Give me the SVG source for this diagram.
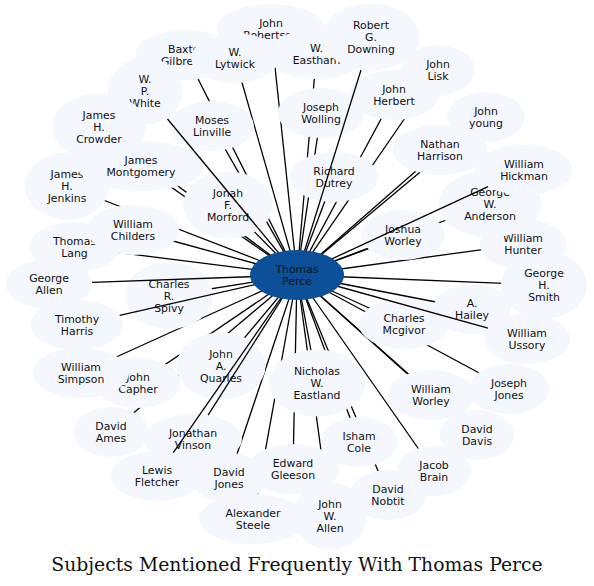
<svg xmlns="http://www.w3.org/2000/svg" width="594" height="586" viewBox="0 0 594 586">
<style>
.n ellipse{fill:#f4f7fe;stroke:none}
.n text,.c text{font-family:"DejaVu Sans",sans-serif;font-size:10.9px;text-anchor:middle;fill:#111}
.e line{stroke:#000;stroke-width:1.3;fill:none}
.title{font-family:"DejaVu Serif",serif;font-size:18.8px;text-anchor:middle;fill:#111}
</style>
<rect width="594" height="586" fill="#fff"/>
<g id="edges-under" class="e">
<line x1="297" y1="275" x2="271" y2="29"/>
<line x1="297" y1="275" x2="186" y2="55"/>
<line x1="297" y1="275" x2="316.5" y2="54"/>
<line x1="297" y1="275" x2="235" y2="58"/>
<line x1="297" y1="275" x2="438" y2="70"/>
<line x1="297" y1="275" x2="394" y2="95"/>
<line x1="297" y1="275" x2="321" y2="113"/>
<line x1="297" y1="275" x2="212" y2="126"/>
<line x1="297" y1="275" x2="99" y2="127"/>
<line x1="297" y1="275" x2="486" y2="117"/>
<line x1="297" y1="275" x2="440" y2="150"/>
<line x1="297" y1="275" x2="67" y2="186"/>
<line x1="297" y1="275" x2="141" y2="166"/>
<line x1="297" y1="275" x2="334" y2="177"/>
<line x1="297" y1="275" x2="544" y2="285"/>
<line x1="297" y1="275" x2="523" y2="244"/>
<line x1="297" y1="275" x2="490" y2="204"/>
<line x1="297" y1="275" x2="74.5" y2="247"/>
<line x1="297" y1="275" x2="133" y2="230"/>
<line x1="297" y1="275" x2="228" y2="205"/>
<line x1="297" y1="275" x2="403" y2="235"/>
<line x1="297" y1="275" x2="169" y2="295.5"/>
<line x1="297" y1="275" x2="472" y2="309"/>
<line x1="297" y1="275" x2="404" y2="324"/>
<line x1="297" y1="275" x2="221" y2="366"/>
<line x1="297" y1="275" x2="138" y2="383"/>
<line x1="297" y1="275" x2="81" y2="373"/>
<line x1="297" y1="275" x2="317" y2="383"/>
<line x1="297" y1="275" x2="509" y2="389"/>
<line x1="297" y1="275" x2="431" y2="395"/>
<line x1="297" y1="275" x2="111" y2="432"/>
<line x1="297" y1="275" x2="477" y2="435"/>
<line x1="297" y1="275" x2="359" y2="442"/>
<line x1="297" y1="275" x2="293" y2="469"/>
<line x1="297" y1="275" x2="434" y2="471"/>
<line x1="297" y1="275" x2="229" y2="478"/>
<line x1="297" y1="275" x2="388" y2="495"/>
<line x1="297" y1="275" x2="253" y2="519"/>
<line x1="297" y1="275" x2="330" y2="516"/>
</g>
<g id="robertson" class="n"><ellipse cx="271" cy="29" rx="54.3" ry="25"/><text><tspan x="271" y="27">John</tspan><tspan x="271" y="39">Robertson</tspan></text></g>
<g id="gilbreath" class="n"><ellipse cx="186" cy="55" rx="50.5" ry="25"/><text><tspan x="186" y="53">Baxter</tspan><tspan x="186" y="65">Gilbreath</tspan></text></g>
<g id="eastham" class="n"><ellipse cx="316.5" cy="54" rx="48.6" ry="25"/><text><tspan x="316.5" y="52">W.</tspan><tspan x="316.5" y="64">Eastham</tspan></text></g>
<g id="lytwick" class="n"><ellipse cx="235" cy="58" rx="43.9" ry="25"/><text><tspan x="235" y="56">W.</tspan><tspan x="235" y="68">Lytwick</tspan></text></g>
<g id="white" class="n"><ellipse cx="145" cy="91" rx="37.3" ry="33.5"/><text><tspan x="145" y="83">W.</tspan><tspan x="145" y="95">P.</tspan><tspan x="145" y="107">White</tspan></text></g>
<g id="downing" class="n"><ellipse cx="371" cy="37" rx="48.6" ry="33.5"/><text><tspan x="371" y="29">Robert</tspan><tspan x="371" y="41">G.</tspan><tspan x="371" y="53">Downing</tspan></text></g>
<g id="lisk" class="n"><ellipse cx="438" cy="70" rx="37" ry="25"/><text><tspan x="438" y="68">John</tspan><tspan x="438" y="80">Lisk</tspan></text></g>
<g id="herbert" class="n"><ellipse cx="394" cy="95" rx="44.4" ry="25"/><text><tspan x="394" y="93">John</tspan><tspan x="394" y="105">Herbert</tspan></text></g>
<g id="wolling" class="n"><ellipse cx="321" cy="113" rx="43.4" ry="25"/><text><tspan x="321" y="111">Joseph</tspan><tspan x="321" y="123">Wolling</tspan></text></g>
<g id="linville" class="n"><ellipse cx="212" cy="126" rx="41.9" ry="25"/><text><tspan x="212" y="124">Moses</tspan><tspan x="212" y="136">Linville</tspan></text></g>
<g id="crowder" class="n"><ellipse cx="99" cy="127" rx="47.2" ry="33.5"/><text><tspan x="99" y="119">James</tspan><tspan x="99" y="131">H.</tspan><tspan x="99" y="143">Crowder</tspan></text></g>
<g id="young" class="n"><ellipse cx="486" cy="117" rx="38.8" ry="25"/><text><tspan x="486" y="115">John</tspan><tspan x="486" y="127">young</tspan></text></g>
<g id="harrison" class="n"><ellipse cx="440" cy="150" rx="47.4" ry="25"/><text><tspan x="440" y="148">Nathan</tspan><tspan x="440" y="160">Harrison</tspan></text></g>
<g id="jenkins" class="n"><ellipse cx="67" cy="186" rx="42.3" ry="33.5"/><text><tspan x="67" y="178">James</tspan><tspan x="67" y="190">H.</tspan><tspan x="67" y="202">Jenkins</tspan></text></g>
<g id="montgomery" class="n"><ellipse cx="141" cy="166" rx="63.5" ry="25"/><text><tspan x="141" y="164">James</tspan><tspan x="141" y="176">Montgomery</tspan></text></g>
<g id="dutrey" class="n"><ellipse cx="334" cy="177" rx="44.3" ry="25"/><text><tspan x="334" y="175">Richard</tspan><tspan x="334" y="187">Dutrey</tspan></text></g>
<g id="smith" class="n"><ellipse cx="544" cy="285" rx="43.1" ry="33.5"/><text><tspan x="544" y="277">George</tspan><tspan x="544" y="289">H.</tspan><tspan x="544" y="301">Smith</tspan></text></g>
<g id="hunter" class="n"><ellipse cx="523" cy="244" rx="43.3" ry="25"/><text><tspan x="523" y="242">William</tspan><tspan x="523" y="254">Hunter</tspan></text></g>
<g id="anderson" class="n"><ellipse cx="490" cy="204" rx="51.4" ry="33.5"/><text><tspan x="490" y="196">George</tspan><tspan x="490" y="208">W.</tspan><tspan x="490" y="220">Anderson</tspan></text></g>
<g id="hickman" class="n"><ellipse cx="524" cy="170" rx="48.6" ry="25"/><text><tspan x="524" y="168">William</tspan><tspan x="524" y="180">Hickman</tspan></text></g>
<g id="lang" class="n"><ellipse cx="74.5" cy="247" rx="45.4" ry="25"/><text><tspan x="74.5" y="245">Thomas</tspan><tspan x="74.5" y="257">Lang</tspan></text></g>
<g id="childers" class="n"><ellipse cx="133" cy="230" rx="46.2" ry="25"/><text><tspan x="133" y="228">William</tspan><tspan x="133" y="240">Childers</tspan></text></g>
<g id="morford" class="n"><ellipse cx="228" cy="205" rx="44.9" ry="33.5"/><text><tspan x="228" y="197">Jonah</tspan><tspan x="228" y="209">F.</tspan><tspan x="228" y="221">Morford</tspan></text></g>
<g id="joshua-worley" class="n"><ellipse cx="403" cy="235" rx="41.8" ry="25"/><text><tspan x="403" y="233">Joshua</tspan><tspan x="403" y="245">Worley</tspan></text></g>
<g id="george-allen" class="n"><ellipse cx="49" cy="284" rx="43.1" ry="25"/><text><tspan x="49" y="282">George</tspan><tspan x="49" y="294">Allen</tspan></text></g>
<g id="spivy" class="n"><ellipse cx="169" cy="295.5" rx="43.9" ry="33.5"/><text><tspan x="169" y="287.5">Charles</tspan><tspan x="169" y="299.5">R.</tspan><tspan x="169" y="311.5">Spivy</tspan></text></g>
<g id="hailey" class="n"><ellipse cx="472" cy="309" rx="39" ry="25"/><text><tspan x="472" y="307">A.</tspan><tspan x="472" y="319">Hailey</tspan></text></g>
<g id="mcgivor" class="n"><ellipse cx="404" cy="324" rx="45.2" ry="25"/><text><tspan x="404" y="322">Charles</tspan><tspan x="404" y="334">Mcgivor</tspan></text></g>
<g id="harris" class="n"><ellipse cx="77" cy="325" rx="46.4" ry="25"/><text><tspan x="77" y="323">Timothy</tspan><tspan x="77" y="335">Harris</tspan></text></g>
<g id="ussory" class="n"><ellipse cx="527" cy="339" rx="43.3" ry="25"/><text><tspan x="527" y="337">William</tspan><tspan x="527" y="349">Ussory</tspan></text></g>
<g id="quarles" class="n"><ellipse cx="221" cy="366" rx="44.6" ry="33.5"/><text><tspan x="221" y="358">John</tspan><tspan x="221" y="370">A.</tspan><tspan x="221" y="382">Quarles</tspan></text></g>
<g id="capher" class="n"><ellipse cx="138" cy="383" rx="42.7" ry="25"/><text><tspan x="138" y="381">John</tspan><tspan x="138" y="393">Capher</tspan></text></g>
<g id="simpson" class="n"><ellipse cx="81" cy="373" rx="47.9" ry="25"/><text><tspan x="81" y="371">William</tspan><tspan x="81" y="383">Simpson</tspan></text></g>
<g id="eastland" class="n"><ellipse cx="317" cy="383" rx="48.1" ry="33.5"/><text><tspan x="317" y="375">Nicholas</tspan><tspan x="317" y="387">W.</tspan><tspan x="317" y="399">Eastland</tspan></text></g>
<g id="joseph-jones" class="n"><ellipse cx="509" cy="389" rx="40.4" ry="25"/><text><tspan x="509" y="387">Joseph</tspan><tspan x="509" y="399">Jones</tspan></text></g>
<g id="william-worley" class="n"><ellipse cx="431" cy="395" rx="43.3" ry="25"/><text><tspan x="431" y="393">William</tspan><tspan x="431" y="405">Worley</tspan></text></g>
<g id="ames" class="n"><ellipse cx="111" cy="432" rx="37.2" ry="25"/><text><tspan x="111" y="430">David</tspan><tspan x="111" y="442">Ames</tspan></text></g>
<g id="vinson" class="n"><ellipse cx="193" cy="439" rx="48.9" ry="25"/><text><tspan x="193" y="437">Jonathan</tspan><tspan x="193" y="449">Vinson</tspan></text></g>
<g id="davis" class="n"><ellipse cx="477" cy="435" rx="37.2" ry="25"/><text><tspan x="477" y="433">David</tspan><tspan x="477" y="445">Davis</tspan></text></g>
<g id="cole" class="n"><ellipse cx="359" cy="442" rx="38.3" ry="25"/><text><tspan x="359" y="440">Isham</tspan><tspan x="359" y="452">Cole</tspan></text></g>
<g id="gleeson" class="n"><ellipse cx="293" cy="469" rx="46" ry="25"/><text><tspan x="293" y="467">Edward</tspan><tspan x="293" y="479">Gleeson</tspan></text></g>
<g id="brain" class="n"><ellipse cx="434" cy="471" rx="37" ry="25"/><text><tspan x="434" y="469">Jacob</tspan><tspan x="434" y="481">Brain</tspan></text></g>
<g id="fletcher" class="n"><ellipse cx="157" cy="476" rx="46.2" ry="25"/><text><tspan x="157" y="474">Lewis</tspan><tspan x="157" y="486">Fletcher</tspan></text></g>
<g id="david-jones" class="n"><ellipse cx="229" cy="478" rx="37.2" ry="25"/><text><tspan x="229" y="476">David</tspan><tspan x="229" y="488">Jones</tspan></text></g>
<g id="nobtit" class="n"><ellipse cx="388" cy="495" rx="38.5" ry="25"/><text><tspan x="388" y="493">David</tspan><tspan x="388" y="505">Nobtit</tspan></text></g>
<g id="steele" class="n"><ellipse cx="253" cy="519" rx="53.9" ry="25"/><text><tspan x="253" y="517">Alexander</tspan><tspan x="253" y="529">Steele</tspan></text></g>
<g id="john-w-allen" class="n"><ellipse cx="330" cy="516" rx="37" ry="33.5"/><text><tspan x="330" y="508">John</tspan><tspan x="330" y="520">W.</tspan><tspan x="330" y="532">Allen</tspan></text></g>
<g id="edges-over" class="e">
<line x1="297" y1="275" x2="361" y2="70"/>
<line x1="297" y1="275" x2="488" y2="186.7"/>
<line x1="297" y1="275" x2="167.5" y2="119"/>
<line x1="297" y1="275" x2="173.3" y2="452.6"/>
<line x1="297" y1="275" x2="208.1" y2="415.2"/>
<line x1="297" y1="275" x2="92" y2="282.4"/>
<line x1="297" y1="275" x2="119.7" y2="315.3"/>
<line x1="297" y1="275" x2="488" y2="328.1"/>
</g>
<g id="perce" class="c"><ellipse cx="297" cy="275" rx="47" ry="25" fill="#0b5098"/><text><tspan x="297" y="273">Thomas</tspan><tspan x="297" y="285">Perce</tspan></text></g>
<text class="title" x="297" y="571">Subjects Mentioned Frequently With Thomas Perce</text>
</svg>
